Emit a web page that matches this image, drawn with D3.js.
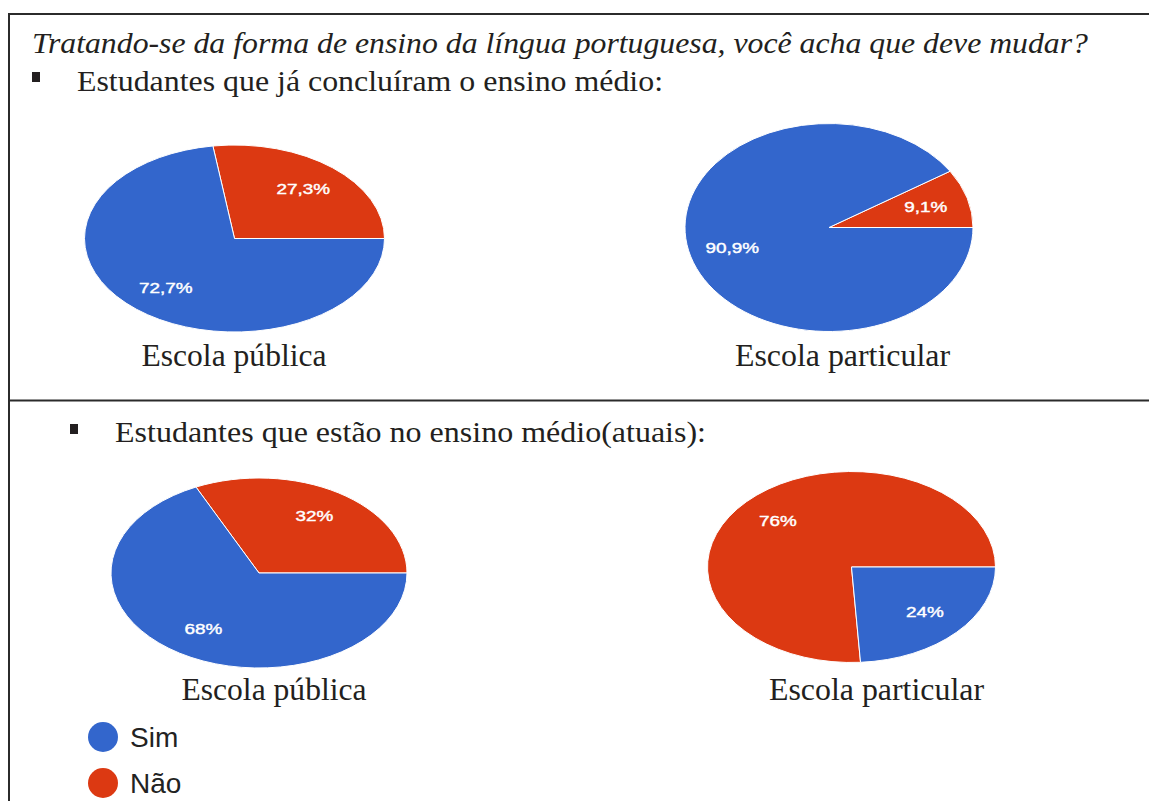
<html>
<head>
<meta charset="utf-8">
<style>
  body { margin: 0; background: #fff; }
  svg { display: block; }
  .serif { font-family: "Liberation Serif", "Times New Roman", serif; fill: #231f20; }
  .rotulo { font-family: "Liberation Sans", Arial, sans-serif; fill: #fff; font-size: 14px; stroke: #fff; stroke-width: 0.4px; }
  .legenda { font-family: "Liberation Sans", Arial, sans-serif; fill: #222; font-size: 28px; }
</style>
<script src="https://cdn.jsdelivr.net/npm/d3@7"></script>
</head>
<body>
<svg id="quadro"></svg>
<script>
  // dados
  const categorias = ["Sim", "Não"];
  const cores = ["#3366cc", "#dc3912"];
  const escolas = ["Escola pública", "Escola particular", "Escola pública", "Escola particular"];
  const valoresSim = [72.7, 90.9, 68, 24];
  const valoresNao = [27.3, 9.1, 32, 76];
  const titulo = "Tratando-se da forma de ensino da língua portuguesa, você acha que deve mudar?";
  const grupos = ["Estudantes que já concluíram o ensino médio:", "Estudantes que estão no ensino médio(atuais):"];

  const largura = 1149, altura = 801;
  const svg = d3.select("#quadro").attr("width", largura).attr("height", altura);

  // disposição de cada pizza (centro, raios da elipse, legenda)
  const paineis = [
    { cx: 234.5, cy: 238.5, rx: 150, ry: 93.5, lx: 234, ly: 366, lw: 185 },
    { cx: 829, cy: 227.5, rx: 144, ry: 104, lx: 842.5, ly: 366, lw: 215 },
    { cx: 259, cy: 573, rx: 148, ry: 95, lx: 274, ly: 700, lw: 185 },
    { cx: 851.5, cy: 567, rx: 144, ry: 95.5, lx: 876.5, ly: 700, lw: 215 }
  ];

  // linhas da tabela
  [[8, 14, largura, 14], [9, 400.5, largura, 400.5], [9, 13, 9, altura]].forEach(([x1, y1, x2, y2]) => {
    svg.append("line").attr("x1", x1).attr("y1", y1).attr("x2", x2).attr("y2", y2)
      .attr("stroke", "#2b2b2b").attr("stroke-width", 2);
  });

  // textos
  svg.append("text").attr("class", "serif").attr("x", 32).attr("y", 53)
    .attr("font-size", 30).attr("font-style", "italic")
    .attr("textLength", 1056).attr("lengthAdjust", "spacingAndGlyphs").text(titulo);

  const cabecalhos = [
    { bx: 32, by: 72, tx: 77, ty: 91, tw: 586 },
    { bx: 70, by: 424, tx: 115, ty: 442, tw: 591 }
  ];
  cabecalhos.forEach((c, i) => {
    svg.append("rect").attr("x", c.bx).attr("y", c.by).attr("width", 8).attr("height", 10).attr("fill", "#231f20");
    svg.append("text").attr("class", "serif").attr("x", c.tx).attr("y", c.ty)
      .attr("font-size", 30).attr("textLength", c.tw).attr("lengthAdjust", "spacingAndGlyphs")
      .text(grupos[i]);
  });

  const formato = v => String(v).replace(".", ",") + "%";
  const R = 100;
  const arco = d3.arc().innerRadius(0).outerRadius(R);
  const arcoRotulo = d3.arc().innerRadius(R * 0.7).outerRadius(R * 0.7);
  // começa às 3 horas e gira no sentido anti-horário, "Não" primeiro
  const pizza = d3.pie().sort(null).value(d => d.valor)
    .startAngle(Math.PI / 2).endAngle(Math.PI / 2 - 2 * Math.PI);

  paineis.forEach((p, i) => {
    const fatias = pizza([
      { cat: 1, valor: valoresNao[i] },
      { cat: 0, valor: valoresSim[i] }
    ]);
    const sx = p.rx / R, sy = p.ry / R;
    const g = svg.append("g").attr("transform", `translate(${p.cx},${p.cy}) scale(${sx},${sy})`);
    g.selectAll("path").data(fatias).enter().append("path")
      .attr("d", arco)
      .attr("fill", d => cores[d.data.cat])
      .attr("stroke", "#fff").attr("stroke-width", 1)
      .attr("vector-effect", "non-scaling-stroke");

    svg.selectAll(null).data(fatias).enter().append("text")
      .attr("class", "rotulo")
      .attr("text-anchor", "middle").attr("dominant-baseline", "central")
      .attr("transform", d => {
        const c = arcoRotulo.centroid(d);
        return `translate(${p.cx + c[0] * sx},${p.cy + c[1] * sy}) scale(1.35,1)`;
      })
      .text(d => formato(d.data.valor));

    svg.append("text").attr("class", "serif").attr("x", p.lx).attr("y", p.ly)
      .attr("text-anchor", "middle").attr("font-size", 31)
      .attr("textLength", p.lw).attr("lengthAdjust", "spacingAndGlyphs")
      .text(escolas[i]);
  });

  // legenda
  const legenda = svg.selectAll(".item").data(categorias).enter().append("g")
    .attr("class", "item")
    .attr("transform", (d, i) => `translate(103,${737 + i * 46})`);
  legenda.append("circle").attr("r", 15).attr("fill", (d, i) => cores[i]);
  legenda.append("text").attr("class", "legenda").attr("x", 27).attr("y", 10).text(d => d);
</script>
</body>
</html>
